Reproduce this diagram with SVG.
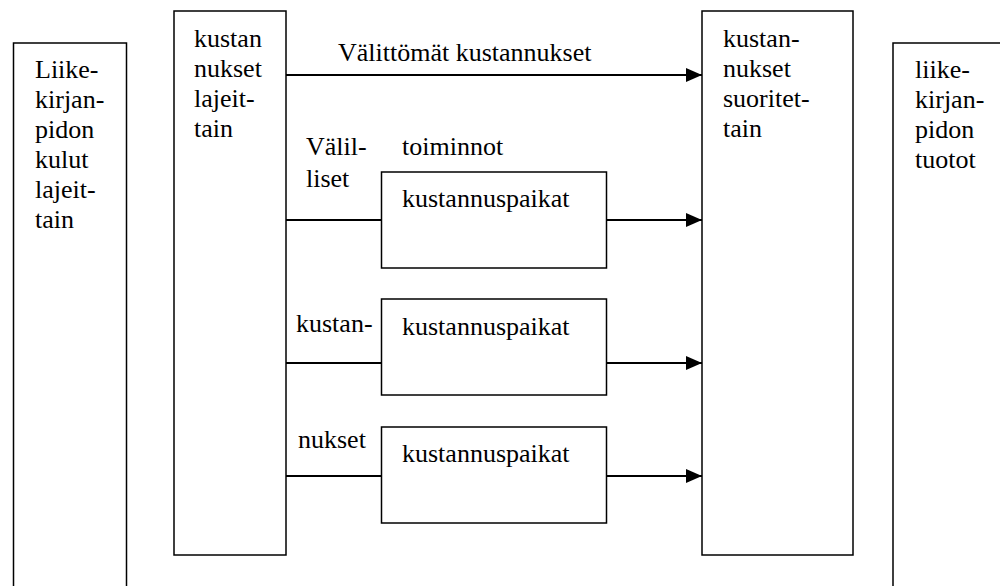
<svg xmlns="http://www.w3.org/2000/svg" width="1000" height="586" viewBox="0 0 1000 586">
  <style>
    .box { fill: #fff; stroke: #000; stroke-width: 1.5; }
    .lbl { font-family: "Liberation Serif", Tinos, "Times New Roman", Times, "Nimbus Roman", "Noto Serif", "DejaVu Serif", FreeSerif, serif; font-size: 26px; fill: #000; }
    .conn { stroke: #000; stroke-width: 2.2; fill: none; }
  </style>
  <defs>
    <marker id="arrow" viewBox="0 0 16 14" refX="16" refY="7" markerWidth="16" markerHeight="14" markerUnits="userSpaceOnUse" orient="auto">
      <path d="M0,0 L16,7 L0,14 Z" fill="#000"/>
    </marker>
  </defs>

  <rect width="1000" height="586" fill="#fff"/>

  <!-- General ledger expenses by type -->
  <g id="kulut">
    <rect class="box" x="13.5" y="43" width="113" height="560"/>
    <text class="lbl" x="35" y="78">Liike-</text>
    <text class="lbl" x="35" y="108">kirjan-</text>
    <text class="lbl" x="35" y="138">pidon</text>
    <text class="lbl" x="35" y="168">kulut</text>
    <text class="lbl" x="35" y="198">lajeit-</text>
    <text class="lbl" x="35" y="228">tain</text>
  </g>

  <!-- Costs by type -->
  <g id="lajeittain">
    <rect class="box" x="174" y="11" width="112" height="544"/>
    <text class="lbl" x="194" y="47">kustan</text>
    <text class="lbl" x="194" y="77">nukset</text>
    <text class="lbl" x="194" y="107">lajeit-</text>
    <text class="lbl" x="194" y="137">tain</text>
  </g>

  <!-- Cost centres -->
  <g id="paikka1">
    <rect class="box" x="381.5" y="172" width="225" height="96"/>
    <text class="lbl" x="402" y="207">kustannuspaikat</text>
  </g>
  <g id="paikka2">
    <rect class="box" x="381.5" y="299" width="225" height="96"/>
    <text class="lbl" x="402" y="335">kustannuspaikat</text>
  </g>
  <g id="paikka3">
    <rect class="box" x="381.5" y="427" width="225" height="96"/>
    <text class="lbl" x="402" y="462">kustannuspaikat</text>
  </g>

  <!-- Costs by product -->
  <g id="suoritteittain">
    <rect class="box" x="702" y="11" width="151" height="544"/>
    <text class="lbl" x="723" y="47">kustan-</text>
    <text class="lbl" x="723" y="77">nukset</text>
    <text class="lbl" x="723" y="107">suoritet-</text>
    <text class="lbl" x="723" y="137">tain</text>
  </g>

  <!-- General ledger revenues -->
  <g id="tuotot">
    <rect class="box" x="893" y="43" width="130" height="560"/>
    <text class="lbl" x="915" y="78">liike-</text>
    <text class="lbl" x="915" y="108">kirjan-</text>
    <text class="lbl" x="915" y="138">pidon</text>
    <text class="lbl" x="915" y="168">tuotot</text>
  </g>

  <!-- Connectors -->
  <g id="connectors">
    <line class="conn" x1="286" y1="75" x2="702" y2="75" marker-end="url(#arrow)"/>
    <line class="conn" x1="286" y1="220" x2="381.5" y2="220"/>
    <line class="conn" x1="606.5" y1="220" x2="702" y2="220" marker-end="url(#arrow)"/>
    <line class="conn" x1="286" y1="363" x2="381.5" y2="363"/>
    <line class="conn" x1="606.5" y1="363" x2="702" y2="363" marker-end="url(#arrow)"/>
    <line class="conn" x1="286" y1="476" x2="381.5" y2="476"/>
    <line class="conn" x1="606.5" y1="476" x2="702" y2="476" marker-end="url(#arrow)"/>
  </g>

  <!-- Connector labels -->
  <g id="labels">
    <text class="lbl" x="338" y="61">Välittömät kustannukset</text>
    <text class="lbl" x="306" y="155">Välil-</text>
    <text class="lbl" x="306" y="187">liset</text>
    <text class="lbl" x="402" y="155">toiminnot</text>
    <text class="lbl" x="296" y="332">kustan-</text>
    <text class="lbl" x="298" y="448">nukset</text>
  </g>
</svg>
